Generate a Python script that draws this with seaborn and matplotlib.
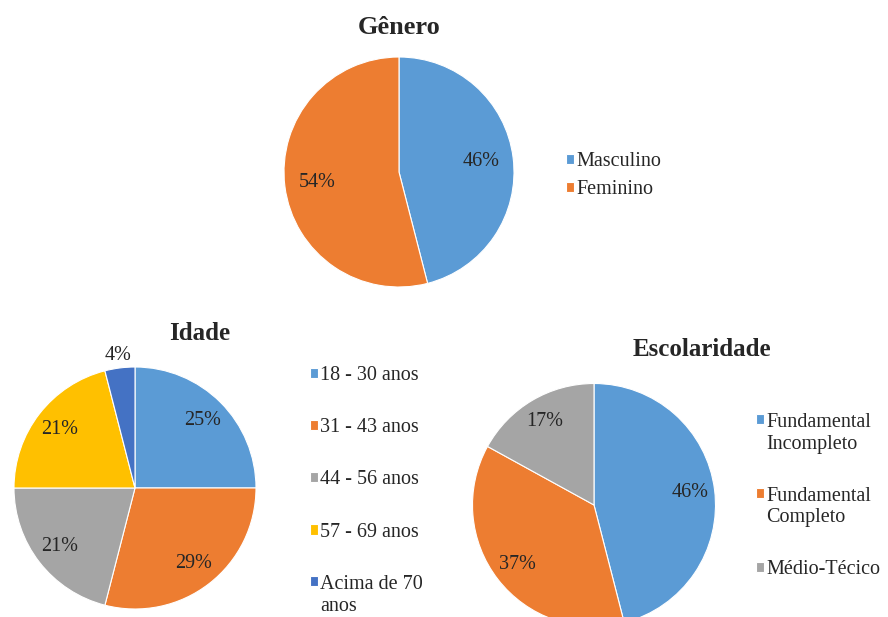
import numpy as np
import matplotlib
matplotlib.use("Agg")
import matplotlib.pyplot as plt
import matplotlib.patches as mpatches
from matplotlib.legend_handler import HandlerPatch
import seaborn as sns

sns.set_style("white")
plt.rcParams['font.family'] = ['Liberation Serif', 'DejaVu Serif']

# Dados
genero_labels = ["Masculino", "Feminino"]
genero_vals = [46, 54]

idade_labels = ["18 - 30 anos", "31 - 43 anos", "44 - 56 anos", "57 - 69 anos", "Acima de 70\nanos"]
idade_vals = [25, 29, 21, 21, 4]

escol_labels = ["Fundamental\nIncompleto", "Fundamental\nCompleto", "Médio-Técico"]
escol_vals = [46, 37, 17]

# Cores estilo Excel
blue = "#5B9BD5"
orange = "#ED7D31"
gray = "#A5A5A5"
yellow = "#FFC000"
dblue = "#4472C4"

W, H = 888, 617
FS = 14.5
fig = plt.figure(figsize=(W / 100, H / 100), dpi=100)


def pie_axes(cx, cy, r):
    # posição em pixels -> coordenadas da figura
    return fig.add_axes([(cx - r) / W, (H - cy - r) / H, 2 * r / W, 2 * r / H])


def desenha_pizza(ax, vals, cores, pctdist=0.75):
    wedges, texts, autotexts = ax.pie(
        vals, colors=cores, startangle=90, counterclock=False,
        autopct=lambda p: f"{p:.0f}%", pctdistance=pctdist,
        wedgeprops=dict(edgecolor="white", linewidth=0.8),
        textprops=dict(fontsize=FS, color="#262626"))
    ax.set_xlim(-1, 1)
    ax.set_ylim(-1, 1)
    ax.set_aspect("equal")
    return wedges, autotexts


def quadrado(lbl):
    # marcador alinhado com a primeira linha do rótulo
    n = lbl.count("\n")

    def f(legend, orig_handle, xdescent, ydescent, width, height, fontsize):
        return mpatches.Rectangle((-xdescent, -ydescent + n * 0.7 * fontsize), width, height)
    return HandlerPatch(patch_func=f)


def legenda(ax, wedges, labels, x, y, spacing):
    ax.legend(wedges, labels, loc="upper left", bbox_to_anchor=(x / W, 1 - y / H),
              bbox_transform=fig.transFigure, frameon=False, fontsize=FS,
              handlelength=0.4, handleheight=0.4, handletextpad=0.1,
              labelspacing=spacing, borderpad=0, borderaxespad=0,
              handler_map={w: quadrado(l) for w, l in zip(wedges, labels)})


# Gênero
ax1 = pie_axes(399, 172, 115)
w1, t1 = desenha_pizza(ax1, genero_vals, [blue, orange], 0.72)
fig.text(399 / W, 1 - 27 / H, "Gênero", ha="center", va="center",
         fontsize=19, fontweight="bold")
legenda(ax1, w1, genero_labels, 566, 152, 0.45)

# Idade
ax2 = pie_axes(135, 488, 121)
w2, t2 = desenha_pizza(ax2, idade_vals, [blue, orange, gray, yellow, dblue], 0.79)
# rótulo da fatia pequena fora da pizza
ang = np.deg2rad((w2[-1].theta1 + w2[-1].theta2) / 2)
t2[-1].set_position((1.1 * np.cos(ang), 1.1 * np.sin(ang)))
fig.text(200 / W, 1 - 334 / H, "Idade", ha="center", va="center",
         fontsize=18, fontweight="bold")
legenda(ax2, w2, idade_labels, 310, 366, 1.65)

# Escolaridade
ax3 = pie_axes(594, 505, 121.5)
w3, t3 = desenha_pizza(ax3, escol_vals, [blue, orange, gray], 0.8)
fig.text(702 / W, 1 - 350 / H, "Escolaridade", ha="center", va="center",
         fontsize=18, fontweight="bold")
legenda(ax3, w3, escol_labels, 756, 413, 1.63)

fig.savefig("out.png", dpi=100)
